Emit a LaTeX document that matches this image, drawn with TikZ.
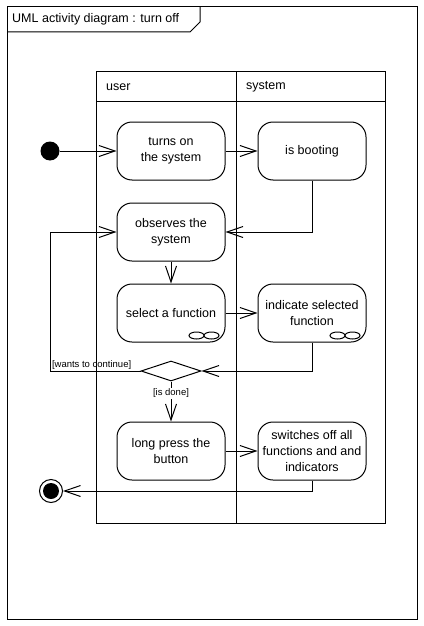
\documentclass[tikz,border=0pt]{standalone}
\usepackage{fontspec}
\setmainfont{Liberation Sans}
\usetikzlibrary{arrows.meta,positioning,shapes.geometric}

\begin{document}
\begin{tikzpicture}[
 x=1pt,y=-1pt,
 node distance=22pt and 32pt,
 every node/.style={font=\fontsize{12.5}{16}\selectfont},
 border/.style={line width=1pt},
 action/.style={draw,line width=1pt,rounded corners=15pt,align=center,minimum width=108pt,minimum height=58pt,inner sep=0pt},
 decision/.style={draw,line width=1pt,diamond,aspect=3,minimum width=60pt,minimum height=20pt,inner sep=0pt},
 initial/.style={circle,fill,minimum size=19pt,inner sep=0pt},
 final/.style={circle,draw,line width=1pt,minimum size=23pt,inner sep=0pt},
 lane/.style={anchor=west,inner sep=0pt},
 guard/.style={font=\fontsize{9.5}{11}\selectfont,inner sep=1pt},
 flow/.style={-{Straight Barb[length=16pt,width=11pt]},line width=1pt}
]
\useasboundingbox (0,0) rectangle (423,626);
\draw[border] (7,7) rectangle (417,619);
\draw[border] (7,32) -- (190,32) -- (200,22) -- (200,7);
\node[lane] (title) at (12,19) {UML activity diagram : turn off};
\draw[border] (96,71) rectangle (385,523);
\draw[border] (236,71) -- (236,523);
\draw[border] (96,101) -- (385,101);
\node[lane] (userlane) at (106,87) {user};
\node[lane] (systemlane) at (246,87) {system};
\node[initial] (start) at (50,151) {};
\node[action] (turnon) at (171,151) {turns on\\the system};
\node[action,right=of turnon] (booting) {is booting};
\node[action,below=of turnon] (observes) {observes the\\system};
\node[action,below=of observes] (select) {select a function};
\node[action,right=of select] (indicate) {indicate selected\\function};
\node[decision] (choice) at (171,371) {};
\node[action] (longpress) at (171,451) {long press the\\button};
\node[action,right=of longpress] (switches) {switches off all\\functions and and\\indicators};
\node[final] (finish) at (51,491) {};
\fill (finish.center) circle (8pt);
\foreach \n in {select,indicate} {
 \draw[border] ([shift={(-29,-7)}]\n.south east) ellipse (7.5pt and 3.5pt)
  ([shift={(-14,-7)}]\n.south east) ellipse (7.5pt and 3.5pt);
}
\draw[flow] (start) -- (turnon);
\draw[flow] (turnon) -- (booting);
\draw[flow] (booting.south) |- (observes.east);
\draw[flow] (observes) -- (select);
\draw[flow] (select) -- (indicate);
\draw[flow] (indicate.south) |- (choice.east);
\draw[flow] (choice.west) -- ++(-90,0) node[guard,above right]{[wants to continue]} |- (observes.west);
\draw[flow] (choice) -- node[guard,fill=white,pos=0.3]{[is done]} (longpress);
\draw[flow] (longpress) -- (switches);
\draw[flow] (switches.south) |- (finish);
\end{tikzpicture}
\end{document}
